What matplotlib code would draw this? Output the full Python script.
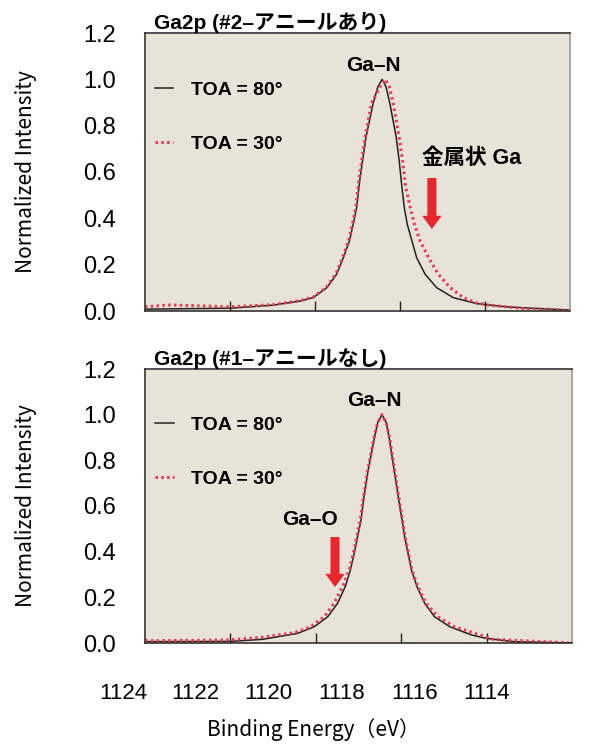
import numpy as np
import matplotlib
matplotlib.use("Agg")
import matplotlib.pyplot as plt

# Ga2p spectra (binding energy in eV, normalized intensity)
top_be_80 = [1124.0, 1123.0, 1122.0, 1121.0, 1120.35, 1120.04, 1119.72, 1119.49, 1119.33,
             1119.19, 1119.1, 1119.02, 1118.95, 1118.88, 1118.8, 1118.63, 1118.52,
             1118.42, 1118.33, 1118.24, 1118.09, 1118.02, 1117.97, 1117.9, 1117.83,
             1117.72, 1117.61, 1117.41, 1117.14, 1116.75, 1116.2, 1115.5, 1115.0, 1114.0]
top_int_80 = [0.008, 0.01, 0.012, 0.025, 0.043, 0.058, 0.101, 0.159, 0.231,
              0.303, 0.375, 0.447, 0.56, 0.65, 0.751, 0.898, 0.968,
              1.0, 0.968, 0.898, 0.751, 0.65, 0.56, 0.447, 0.375,
              0.303, 0.231, 0.159, 0.101, 0.058, 0.032, 0.018, 0.013, 0.004]

top_be_30 = [1124.0, 1123.4, 1122.0, 1121.0, 1120.35, 1120.04, 1119.74, 1119.51, 1119.35,
             1119.21, 1119.12, 1119.04, 1118.97, 1118.9, 1118.82, 1118.67, 1118.47,
             1118.35, 1118.25, 1118.16, 1118.02, 1117.94, 1117.87, 1117.76, 1117.66,
             1117.53, 1117.33, 1117.1, 1116.82, 1116.51, 1116.2, 1115.93, 1115.0, 1114.0]
top_int_30 = [0.019, 0.026, 0.018, 0.027, 0.045, 0.06, 0.101, 0.159, 0.231,
              0.303, 0.375, 0.447, 0.56, 0.65, 0.751, 0.898, 0.968,
              1.0, 0.968, 0.898, 0.751, 0.65, 0.54, 0.447, 0.375,
              0.303, 0.231, 0.159, 0.101, 0.058, 0.035, 0.026, 0.009, 0.002]

bot_be_80 = [1124.0, 1122.0, 1121.25, 1120.43, 1120.04, 1119.72, 1119.49, 1119.31, 1119.19,
             1119.1, 1119.02, 1118.94, 1118.88, 1118.78, 1118.63, 1118.55, 1118.45,
             1118.35, 1118.28, 1118.16, 1118.06, 1117.98, 1117.92, 1117.84, 1117.76,
             1117.63, 1117.45, 1117.22, 1116.86, 1116.35, 1116.0, 1115.36, 1114.0]
bot_int_80 = [0.006, 0.007, 0.016, 0.042, 0.071, 0.115, 0.174, 0.247, 0.32,
              0.393, 0.466, 0.539, 0.63, 0.75, 0.897, 0.965, 1.0,
              0.965, 0.897, 0.75, 0.63, 0.539, 0.466, 0.393, 0.32,
              0.247, 0.174, 0.115, 0.071, 0.035, 0.02, 0.006, 0.0]

bot_be_30 = [1124.0, 1123.84, 1122.05, 1121.25, 1120.5, 1120.12, 1119.8, 1119.57, 1119.37,
             1119.22, 1119.12, 1119.04, 1118.96, 1118.89, 1118.79, 1118.64, 1118.55,
             1118.45, 1118.35, 1118.27, 1118.15, 1118.05, 1117.97, 1117.91, 1117.83,
             1117.75, 1117.61, 1117.42, 1117.14, 1116.75, 1116.4, 1115.84, 1114.0]
bot_int_30 = [0.012, 0.01, 0.013, 0.025, 0.045, 0.071, 0.115, 0.174, 0.247,
              0.32, 0.393, 0.466, 0.539, 0.63, 0.75, 0.897, 0.965,
              1.0, 0.965, 0.897, 0.75, 0.63, 0.539, 0.466, 0.393,
              0.32, 0.247, 0.174, 0.115, 0.071, 0.05, 0.016, 0.0]

titles = ["Ga2p (#2–アニールあり)", "Ga2p (#1–アニールなし)"]
labels = ["TOA = 80°", "TOA = 30°"]
yticks = [0.0, 0.2, 0.4, 0.6, 0.8, 1.0, 1.2]
xticks = [1124, 1122, 1120, 1118, 1116, 1114]

BG = "#e7e3d9"
RED = "#e8384f"
ARROW = "#e8262d"
FAM = ["Liberation Sans", "Noto Sans CJK JP", "DejaVu Sans"]
JP = ["Noto Sans CJK JP", "DejaVu Sans"]

fig = plt.figure(figsize=(6.11, 7.44), dpi=100)
W, H = 611, 744


def px_axes(l, t, r, b):
    return fig.add_axes([l / W, 1 - b / H, (r - l) / W, (b - t) / H])


ax_top = px_axes(145, 33, 570, 311)
ax_bot = px_axes(145, 369, 572, 643)

data = [(top_be_80, top_int_80, top_be_30, top_int_30),
        (bot_be_80, bot_int_80, bot_be_30, bot_int_30)]

for ax, (x80, y80, x30, y30), title in zip([ax_top, ax_bot], data, titles):
    ax.set_facecolor(BG)
    ax.plot(x80, y80, color="#222222", lw=1.1, label=labels[0])
    ax.plot(x30, y30, color=RED, lw=2.2, ls=(0, (0.8, 1.1)), label=labels[1])
    ax.set_xlim(1124, 1114)
    ax.set_ylim(0, 1.2)
    ax.set_xticks([1122, 1120, 1118, 1116])
    ax.tick_params(axis="x", direction="in", length=7, width=1, labelbottom=False,
                   color="#222222")
    ax.set_yticks(yticks)
    ax.set_yticklabels([f"{v:.1f}" for v in yticks], family=FAM, fontsize=17)
    ax.tick_params(axis="y", length=0, pad=21)
    for s in ax.spines.values():
        s.set_color("#333333")
        s.set_linewidth(1.2)
    ax.spines["right"].set_color("#999999")
    ax.set_ylabel("Normalized Intensity", family=JP, fontsize=15)
    ax.yaxis.set_label_coords(-0.254, 0.5)
    ax.text(0.02, 1.0, title, transform=ax.transAxes, ha="left", va="bottom",
            family=FAM, fontsize=15, fontweight="bold")
    ax.legend(loc="upper left", bbox_to_anchor=(0.0235, 0.826), frameon=False,
              borderpad=0, borderaxespad=0, handlelength=0.95, handletextpad=0.9,
              labelspacing=1.86, prop={"family": FAM, "size": 14, "weight": "bold"})
    ax.text(1118.62, 1.06, "Ga–N", ha="center", va="center", family=FAM,
            fontsize=15, fontweight="bold")

arrow_style = "simple,head_width=1.4,head_length=0.95,tail_width=0.65"
ax_top.text(1117.48, 0.66, "金属状 Ga", ha="left", va="center", family=FAM,
            fontsize=15.5, fontweight="bold")
ax_top.annotate("", xy=(1117.25, 0.354), xytext=(1117.25, 0.574),
                arrowprops=dict(arrowstyle=arrow_style, color=ARROW, lw=0,
                                shrinkA=0, shrinkB=0, mutation_scale=10))

ax_bot.text(1120.14, 0.54, "Ga–O", ha="center", va="center", family=FAM,
            fontsize=15, fontweight="bold")
ax_bot.annotate("", xy=(1119.55, 0.245), xytext=(1119.55, 0.464),
                arrowprops=dict(arrowstyle=arrow_style, color=ARROW, lw=0,
                                shrinkA=0, shrinkB=0, mutation_scale=10))

# tick labels of the energy axis sit on their own scale in the original figure
ax_lab = px_axes(123, 369, 487, 643)
ax_lab.set_xlim(1124, 1114)
ax_lab.set_xticks(xticks)
ax_lab.set_xticklabels([str(v) for v in xticks], family=FAM, fontsize=16)
ax_lab.tick_params(axis="x", length=0, pad=29)
ax_lab.set_yticks([])
ax_lab.patch.set_visible(False)
for s in ax_lab.spines.values():
    s.set_visible(False)

fig.text(313 / W, 1 - 730 / H, "Binding Energy（eV）", ha="center", va="center",
         family=JP, fontsize=15)

fig.savefig("out.png", dpi=100, facecolor="white")
